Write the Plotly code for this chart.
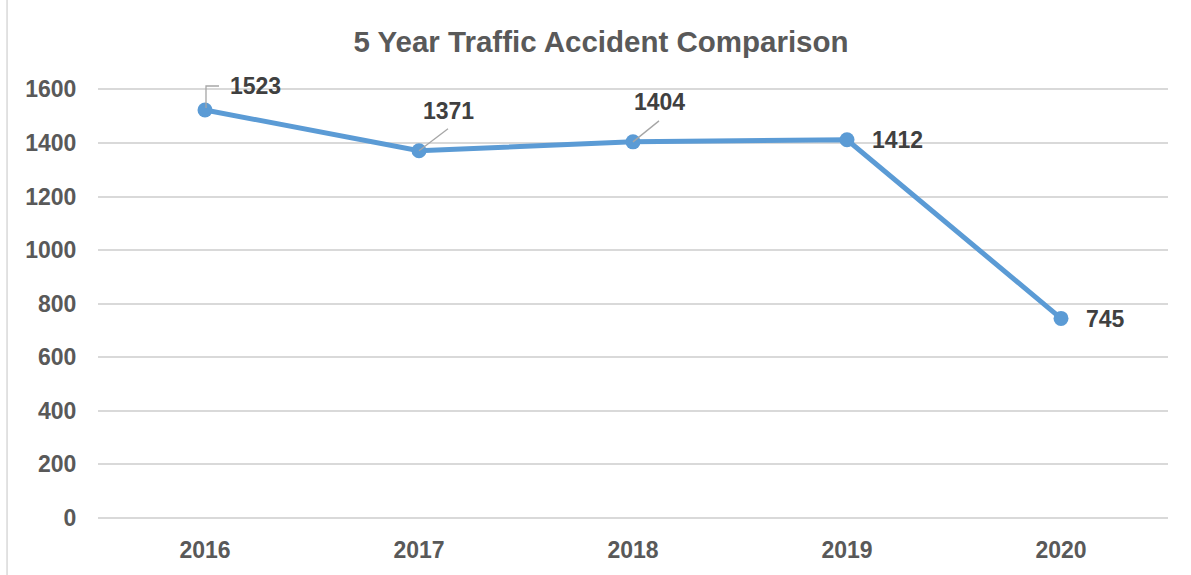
import plotly.graph_objects as go

# chart data
years = ["2016", "2017", "2018", "2019", "2020"]
accidents = [1523, 1371, 1404, 1412, 745]
y_ticks = [0, 200, 400, 600, 800, 1000, 1200, 1400, 1600]

# styling
FONT = "Liberation Sans, Arial, sans-serif"
LINE_COLOR = "#5B9BD5"
GRID_COLOR = "#D9D9D9"
TICK_COLOR = "#595959"
LABEL_COLOR = "#404040"
LEADER_COLOR = "#A6A6A6"

# data label placement (pixel offsets from each point)
label_style = [
    dict(xanchor="left", xshift=23, yshift=24),
    dict(xanchor="center", xshift=29, yshift=40),
    dict(xanchor="center", xshift=26, yshift=40),
    dict(xanchor="left", xshift=23, yshift=0),
    dict(xanchor="left", xshift=23, yshift=-1),
]

fig = go.Figure()

fig.add_trace(go.Scatter(
    x=years,
    y=accidents,
    mode="lines+markers",
    line=dict(color=LINE_COLOR, width=5),
    marker=dict(color=LINE_COLOR, size=15),
    hoverinfo="x+y",
    showlegend=False,
))

# data labels (category axis -> position by index, "2016" would be read as an index)
for i, (val, st) in enumerate(zip(accidents, label_style)):
    fig.add_annotation(
        x=i, y=val, text=f"<b>{val}</b>", showarrow=False,
        xanchor=st["xanchor"], yanchor="middle",
        xshift=st["xshift"], yshift=st["yshift"],
        font=dict(family=FONT, size=23, color=LABEL_COLOR),
    )

# leader lines (pixel offsets anchored on the data points)
leader = dict(color=LEADER_COLOR, width=1.3)
def pix_path(idx, val, path):
    fig.add_shape(
        type="path", xref="x", yref="y",
        xsizemode="pixel", ysizemode="pixel",
        xanchor=idx, yanchor=val, path=path,
        line=leader, layer="above",
    )

pix_path(0, accidents[0], "M1,2 L1,24 L14,24")
pix_path(1, accidents[1], "M0,0 L29,22")
pix_path(2, accidents[2], "M0,0 L26,21")

# outer chart border (only top and left are visible in the crop)
fig.add_shape(
    type="rect", xref="paper", yref="paper",
    x0=-0.085, x1=1.2, y0=-0.3, y1=1.2,
    line=dict(color=GRID_COLOR, width=1.5), layer="below",
)

fig.update_layout(
    width=1191,
    height=575,
    paper_bgcolor="white",
    plot_bgcolor="white",
    # a little headroom above 1600 so the 1523 leader elbow is not clipped
    margin=dict(l=98, r=23, t=84, b=54),
    title=dict(
        text="<b>5 Year Traffic Accident Comparison</b>",
        x=601 / 1191, xanchor="center", xref="container",
        y=1 - 42 / 575, yanchor="middle",
        font=dict(family=FONT, size=29.5, color=TICK_COLOR),
    ),
    xaxis=dict(
        type="category",
        showgrid=False,
        showline=False,
        ticks="outside", ticklen=11, tickcolor="rgba(0,0,0,0)",
        tickfont=dict(family=FONT, size=23, color=TICK_COLOR, weight="bold"),
        range=[-0.5, 4.5],
    ),
    yaxis=dict(
        range=[0, 1620],
        tickvals=y_ticks,
        showgrid=True, gridcolor=GRID_COLOR, gridwidth=1.5,
        zeroline=True, zerolinecolor=GRID_COLOR, zerolinewidth=1.5,
        showline=False,
        ticks="outside", ticklen=16, tickcolor="rgba(0,0,0,0)",
        tickfont=dict(family=FONT, size=23, color=TICK_COLOR, weight="bold"),
    ),
)

fig.write_html(
    "out.html",
    config={"displayModeBar": False},
    post_script="document.body.style.margin='0';",
)
